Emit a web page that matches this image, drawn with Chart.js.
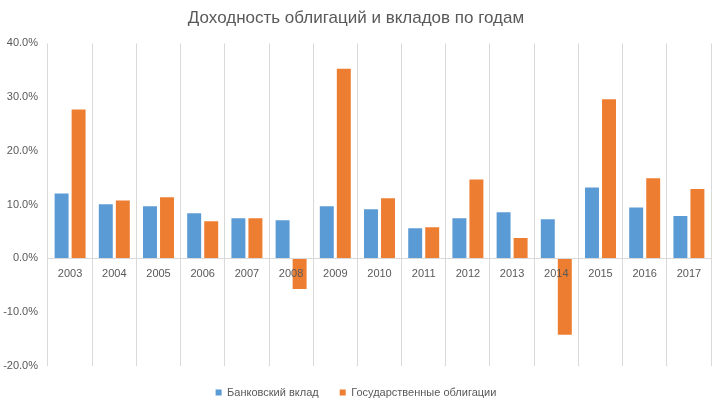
<!DOCTYPE html>
<html><head><meta charset="utf-8">
<script src="https://cdn.jsdelivr.net/npm/chart.js@4/dist/chart.umd.min.js"></script>
<style>html,body{margin:0;padding:0;background:#fff}#w{width:719px;height:407px;position:relative}</style>
</head><body><div id="w"><canvas id="c"></canvas></div>
<script>
const years = ['2003','2004','2005','2006','2007','2008','2009','2010','2011','2012','2013','2014','2015','2016','2017'];
const bankDeposit = [12.1,10.1,9.7,8.4,7.5,7.1,9.7,9.15,5.6,7.5,8.6,7.3,13.2,9.5,7.9];
const govBonds = [27.7,10.8,11.4,6.9,7.5,-5.7,35.3,11.2,5.8,14.7,3.8,-14.2,29.6,14.9,12.9];
const seriesNames = ['Банковский вклад','Государственные облигации'];
const yTicks = [-20,-10,0,10,20,30,40];
const titleText = 'Доходность облигаций и вкладов по годам';

const FONT = "'Liberation Sans', sans-serif";
const TXT = '#595959';
const GRID = '#d9d9d9';

new Chart(document.getElementById('c'), {
  type: 'bar',
  data: {
    labels: years,
    datasets: [
      { label: seriesNames[0], data: bankDeposit, backgroundColor: '#5B9BD5', categoryPercentage: 0.77, barPercentage: 0.82 },
      { label: seriesNames[1], data: govBonds, backgroundColor: '#ED7D31', categoryPercentage: 0.77, barPercentage: 0.82 }
    ]
  },
  options: {
    responsive: true,
    maintainAspectRatio: false,
    animation: false,
    devicePixelRatio: 1,
    layout: { padding: { left: 1, right: 8, top: 4, bottom: -1 } },
    plugins: {
      title: { display: true, text: titleText, color: TXT, font: { family: FONT, size: 17, weight: 'normal' }, padding: { top: 4, bottom: 15 } },
      legend: { position: 'bottom', labels: { boxWidth: 6, boxHeight: 6, color: TXT, font: { family: FONT, size: 11 }, padding: 21 } },
      tooltip: { enabled: false }
    },
    scales: {
      x: {
        position: { y: 0 },
        grid: { offset: true, color: GRID, drawTicks: false },
        border: { color: GRID, z: 1 },
        ticks: { color: TXT, font: { family: FONT, size: 11 }, padding: 9, maxRotation: 0, autoSkip: false, z: 2 }
      },
      y: {
        min: -20, max: 40,
        grid: { display: false, drawTicks: false },
        border: { display: false },
        afterBuildTicks: s => { s.ticks = yTicks.map(v => ({ value: v })); },
        afterFit: s => { s.width = 47; },
        ticks: { color: TXT, font: { family: FONT, size: 11 }, padding: 10, callback: v => v.toFixed(1) + '%' }
      }
    }
  }
});
</script>
</body></html>
